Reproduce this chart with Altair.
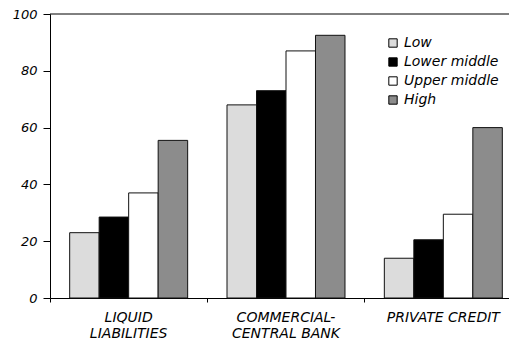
import altair as alt
import pandas as pd

categories = ["LIQUID|LIABILITIES", "COMMERCIAL-|CENTRAL BANK", "PRIVATE CREDIT"]
groups = ["Low", "Lower middle", "Upper middle", "High"]
low = [23, 68, 14]
lower_middle = [28.5, 73, 20.5]
upper_middle = [37, 87, 29.5]
high = [55.5, 92.5, 60]
colors = ["#dcdcdc", "#000000", "#ffffff", "#8c8c8c"]
y_ticks = [0, 20, 40, 60, 80, 100]

series = [low, lower_middle, upper_middle, high]
rows = []
for g, vals in zip(groups, series):
    for c, v in zip(categories, vals):
        rows.append({"category": c, "group": g, "value": v})
df = pd.DataFrame(rows)

FONT = "DejaVu Sans"

bars = alt.Chart(df).mark_bar(stroke="#111111", strokeWidth=1).encode(
    x=alt.X("category:N", sort=categories,
            scale=alt.Scale(range=[0, 472], paddingInner=0, paddingOuter=0),
            axis=alt.Axis(title=None, labelAngle=0, bandPosition=0,
                          tickSize=4, labelFontSize=14,
                          labelPadding=8, labelLineHeight=16,
                          labelExpr="split(datum.label, '|')",
                          labelAlign="center", labelBaseline="top")),
    xOffset=alt.XOffset("group:N", sort=groups,
                        scale=alt.Scale(paddingInner=0, paddingOuter=0.667)),
    y=alt.Y("value:Q", scale=alt.Scale(domain=[0, 100], nice=False),
            axis=alt.Axis(title=None, values=y_ticks, grid=False, tickSize=7,
                          labelPadding=6, labelFontSize=13)),
    color=alt.Color("group:N", sort=groups,
                    scale=alt.Scale(domain=groups, range=colors),
                    legend=alt.Legend(title=None, orient="none", legendX=336,
                                      legendY=22, symbolType="square",
                                      symbolSize=70, symbolStrokeColor="black",
                                      symbolStrokeWidth=1, labelFontSize=14,
                                      labelFont=FONT, labelFontStyle="italic",
                                      labelColor="black", rowPadding=5,
                                      labelOffset=4)),
)

top = alt.Chart(pd.DataFrame({"a": [0]})).mark_rule(color="black", strokeWidth=1).encode(
    x=alt.value(0), x2=alt.value(480), y=alt.value(0)
)

chart = alt.layer(bars, top).properties(
    width=459, height=284,
    autosize=alt.AutoSizeParams(type="none"),
    padding={"left": 42, "top": 6, "right": 0, "bottom": 44},
).configure_view(stroke=None).configure_axis(
    domainColor="black", tickColor="black", labelColor="black",
    labelFont=FONT, labelFontStyle="italic",
    domainWidth=1, tickWidth=1,
)

chart.save("out.html", embed_options={"renderer": "svg", "actions": False})
